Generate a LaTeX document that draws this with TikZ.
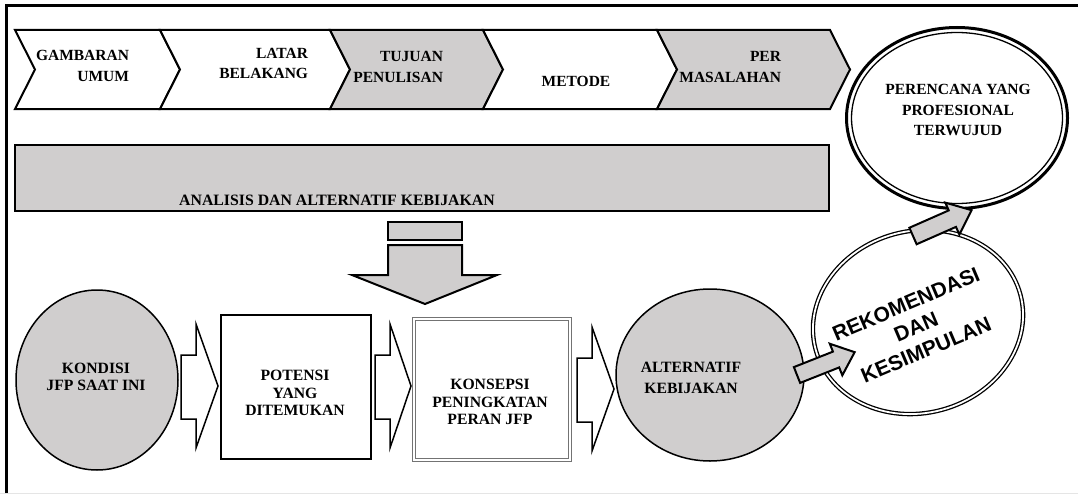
\documentclass[tikz,border=0pt]{standalone}
\usepackage{fontspec}
\setmainfont{Liberation Serif}
\newfontfamily\arialfont{Liberation Sans}
\usetikzlibrary{shapes.geometric}
\definecolor{boxgray}{RGB}{208,206,206}
\begin{document}
\begin{tikzpicture}[x=1pt,y=-1pt,
  every node/.style={inner sep=0pt, outer sep=0pt},
  toplbl/.style={font=\fontsize{15.5}{20.5}\selectfont\bfseries, align=right},
  lowlbl/.style={font=\fontsize{15.7}{17.5}\selectfont\bfseries, align=center},
  reklbl/.style={font=\fontsize{21}{25}\selectfont\arialfont\bfseries, rotate=23},
  chev/.style={draw=black, line width=2, line join=miter},
  blockarrow/.style={draw=black, line width=1.5, fill=white, line join=miter},
  grayarrow/.style={draw=black, line width=2, fill=boxgray, line join=miter},
  ovalnode/.style={ellipse, draw=black, line width=1.5, fill=boxgray},
  squarebox/.style={rectangle, draw=black, line width=1.8, fill=white}
]
\useasboundingbox (0,0) rectangle (1078,495);
\fill[white] (0,0) rectangle (1078,495);
% frame
\draw[black!10, line width=1] (0,493) -- (1078,493);
\draw[line width=3] (6,493) -- (6,6) -- (1078,6);

% chevrons
\newcommand\chevpath[3]{\draw[chev,fill=#3] (#1,30) -- (#2,30) -- ({#2+20},69.5) -- (#2,109) -- (#1,109) -- ({#1+20},69.5) -- cycle;}
\chevpath{15}{160}{white}
\chevpath{160}{330}{white}
\chevpath{330}{483}{boxgray}
\chevpath{483}{657}{white}
\chevpath{657}{830}{boxgray}

\node[toplbl, anchor=east] (gu) at (129,66) {GAMBARAN\\UMUM};
\node[toplbl, anchor=east] (lb) at (308,63.5) {LATAR\\BELAKANG};
\node[toplbl, anchor=east] (tp) at (443,67) {TUJUAN\\PENULISAN};
\node[toplbl] (mt) at (576,81) {METODE};
\node[toplbl, anchor=east] (pm) at (781,67) {PER\\MASALAHAN};

% analysis bar
\node[rectangle, draw=black, line width=2, fill=boxgray, minimum width=814, minimum height=66, anchor=north west] (bar) at (15,145) {};
\node[font=\fontsize{15.8}{18}\selectfont\bfseries] (barT) at (337,200) {ANALISIS DAN ALTERNATIF KEBIJAKAN};

% down arrow
\node[rectangle, draw=black, line width=2, fill=boxgray, minimum width=74, minimum height=18, anchor=north west] (cap) at (388,222) {};
\draw[grayarrow] (388,245) -- (462,245) -- (462,275) -- (497,275) -- (425,304) -- (352,275) -- (388,275) -- cycle;

% lower row
\node[ovalnode, minimum width=162, minimum height=180] (kon) at (97,380) {};
\node[lowlbl] (konT) at (96,377) {KONDISI\\JFP SAAT INI};

\newcommand\whitearrow[4]{\draw[blockarrow] (#1,#4+355) -- (#2,#4+355) -- (#2,#4+324) -- (#3,#4+386) -- (#2,#4+448) -- (#2,#4+419) -- (#1,#4+419) -- cycle;}
\whitearrow{181}{196}{218}{0}
\whitearrow{375}{390}{411}{0}
\whitearrow{577}{592}{614}{3}

\node[squarebox, minimum width=150, minimum height=144, anchor=north west] (pot) at (221,315) {};
\node[lowlbl] (potT) at (295,393) {POTENSI\\YANG\\DITEMUKAN};

\node[rectangle, draw=black!55, double=white, double distance=1.2, line width=1, fill=white, minimum width=156, minimum height=141, anchor=north west] (ksp) at (414,319) {};
\node[lowlbl] (kspT) at (490,402) {KONSEPSI\\PENINGKATAN\\PERAN JFP};

\node[ovalnode, minimum width=188, minimum height=172] (alt) at (710,375) {};
\node[lowlbl, font=\fontsize{15.7}{21}\selectfont\bfseries] (altT) at (691,378) {ALTERNATIF\\KEBIJAKAN};

% rekomendasi
\node[ellipse, draw=black, double=white, double distance=1.8, line width=1.3, fill=white, minimum width=212, minimum height=182, rotate=15] (rek) at (918,322) {};
\node[reklbl] (rekT1) at (906,304) {REKOMENDASI};
\node[reklbl] (rekT2) at (916,327) {DAN};
\node[reklbl] (rekT3) at (926,350) {KESIMPULAN};

% perencana
\node[ellipse, draw=black, line width=3, fill=white, minimum width=221, minimum height=181] (per) at (957,118) {};
\node[ellipse, draw=black, line width=1.3, minimum width=211, minimum height=171] (perIn) at (957,118) {};
\node[toplbl, align=center] (perT) at (958,110) {PERENCANA YANG\\PROFESIONAL\\TERWUJUD};

% gray block arrows
\begin{scope}[shift={(797,375)}, rotate=21.6]
\draw[grayarrow] (0,-8.5) -- (42,-8.5) -- (42,-17) -- (62,0) -- (42,17) -- (42,8.5) -- (0,8.5) -- cycle;
\end{scope}
\begin{scope}[shift={(913,236)}, rotate=23.8]
\draw[grayarrow] (0,-9) -- (43,-9) -- (43,-17.5) -- (64,0) -- (43,17.5) -- (43,9) -- (0,9) -- cycle;
\end{scope}
\end{tikzpicture}
\end{document}
